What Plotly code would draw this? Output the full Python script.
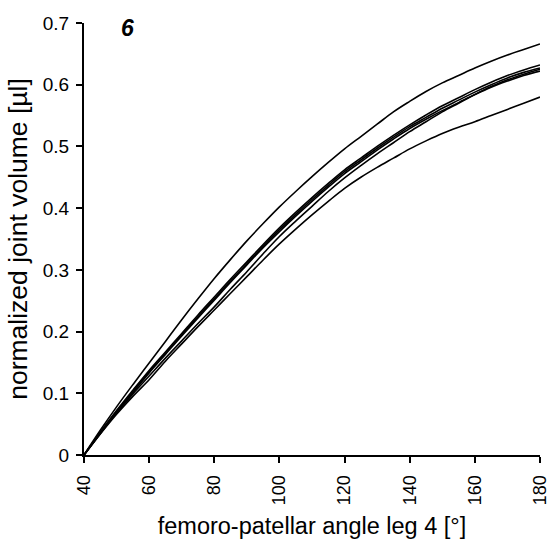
import plotly.graph_objects as go

angle = [40, 45, 50, 55, 60, 65, 70, 75, 80, 85, 90, 95, 100, 105, 110,
         115, 120, 125, 130, 135, 140, 145, 150, 155, 160, 165, 170, 175, 180]

curve_top = [0, 0.040, 0.078, 0.114, 0.149, 0.184, 0.219, 0.253, 0.286, 0.317, 0.347,
             0.375, 0.402, 0.427, 0.451, 0.474, 0.496, 0.516, 0.536, 0.556, 0.573,
             0.589, 0.603, 0.615, 0.627, 0.638, 0.648, 0.657, 0.666]
curve_b1 = [0, 0.037, 0.072, 0.105, 0.137, 0.167, 0.197, 0.227, 0.256, 0.285, 0.313,
            0.341, 0.368, 0.393, 0.417, 0.440, 0.462, 0.481, 0.500, 0.518, 0.535,
            0.551, 0.566, 0.579, 0.592, 0.604, 0.615, 0.624, 0.632]
curve_b2 = [0, 0.036, 0.070, 0.103, 0.135, 0.165, 0.195, 0.224, 0.253, 0.282, 0.310,
            0.338, 0.365, 0.390, 0.414, 0.437, 0.459, 0.478, 0.497, 0.515, 0.532,
            0.547, 0.562, 0.575, 0.588, 0.600, 0.611, 0.620, 0.627]
curve_b3 = [0, 0.035, 0.069, 0.101, 0.133, 0.163, 0.193, 0.222, 0.251, 0.280, 0.308,
            0.336, 0.362, 0.387, 0.411, 0.434, 0.456, 0.475, 0.494, 0.512, 0.529,
            0.544, 0.558, 0.571, 0.584, 0.596, 0.606, 0.615, 0.622]
curve_l4 = [0, 0.035, 0.068, 0.099, 0.128, 0.157, 0.185, 0.213, 0.240, 0.269, 0.297,
            0.326, 0.354, 0.379, 0.403, 0.427, 0.449, 0.469, 0.488, 0.506, 0.524,
            0.540, 0.556, 0.570, 0.584, 0.597, 0.608, 0.617, 0.625]
curve_low = [0, 0.034, 0.066, 0.095, 0.122, 0.152, 0.180, 0.208, 0.235, 0.262, 0.289,
             0.316, 0.342, 0.366, 0.389, 0.411, 0.432, 0.450, 0.466, 0.481, 0.496,
             0.509, 0.521, 0.531, 0.540, 0.550, 0.560, 0.570, 0.580]

x_ticks = [40, 60, 80, 100, 120, 140, 160, 180]
y_ticks = [0, 0.1, 0.2, 0.3, 0.4, 0.5, 0.6, 0.7]
y_tick_text = ["0", "0.1", "0.2", "0.3", "0.4", "0.5", "0.6", "0.7"]

FONT = "Liberation Sans, Arial, sans-serif"

fig = go.Figure()
for ys in [curve_top, curve_b1, curve_b2, curve_b3, curve_l4, curve_low]:
    fig.add_trace(go.Scatter(x=angle, y=ys, mode="lines", line_shape="spline",
                             line=dict(color="black", width=1.6),
                             showlegend=False, hoverinfo="skip"))

fig.add_annotation(x=53.3, y=0.692, xref="x", yref="y", text="<b><i>6</i></b>",
                   showarrow=False, font=dict(family=FONT, size=23, color="black"))

fig.update_layout(
    width=549, height=543,
    margin=dict(l=84, r=9, t=23, b=88),
    paper_bgcolor="white", plot_bgcolor="white",
    font=dict(family=FONT, color="black"),
    xaxis=dict(range=[40, 180], tickvals=x_ticks, ticktext=[str(v) for v in x_ticks],
               tickangle=-90, ticks="outside", ticklen=6, tickwidth=1.5, tickcolor="black",
               ticklabeloverflow="allow", automargin=False, ticklabelstandoff=5,
               showline=True, linecolor="black", linewidth=2, showgrid=False, zeroline=False,
               tickfont=dict(size=18, family=FONT),
               title=dict(text="femoro-patellar angle leg 4 [°]", font=dict(size=23.5, family=FONT),
                          standoff=13)),
    yaxis=dict(range=[0, 0.7], tickvals=y_ticks, ticktext=y_tick_text,
               ticks="outside", ticklen=6, tickwidth=1.5, tickcolor="black",
               automargin=False, ticklabelstandoff=3,
               showline=True, linecolor="black", linewidth=2, showgrid=False, zeroline=False,
               tickfont=dict(size=19, family=FONT),
               title=dict(text="normalized joint volume [µl]", font=dict(size=26.5, family=FONT),
                          standoff=8)),
)

fig.write_html("out.html")
